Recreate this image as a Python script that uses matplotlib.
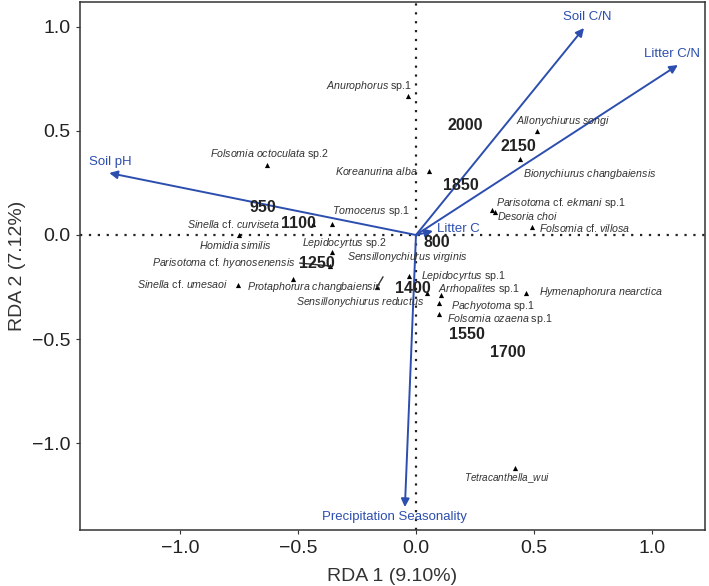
import matplotlib
matplotlib.use("Agg")
import matplotlib.pyplot as plt

plt.rcParams['font.family'] = ['Liberation Sans', 'DejaVu Sans']
plt.rcParams['mathtext.fontset'] = 'custom'
plt.rcParams['mathtext.it'] = 'Liberation Sans:italic'
plt.rcParams['mathtext.rm'] = 'Liberation Sans'

# species scores (RDA1, RDA2) and where their labels sit
species = ['Anurophorus sp.1', 'Folsomia octoculata sp.2', 'Koreanurina alba',
           'Allonychiurus songi', 'Bionychiurus changbaiensis', 'Parisotoma cf. ekmani sp.1',
           'Desoria choi', 'Folsomia cf. villosa', 'Tomocerus sp.1', 'Sinella cf. curviseta',
           'Homidia similis', 'Lepidocyrtus sp.2', 'Parisotoma cf. hyonosenensis',
           'Sensillonychiurus virginis', 'Sinella cf. umesaoi', 'Protaphorura changbaiensis',
           'Sensillonychiurus reductus', 'Lepidocyrtus sp.1', 'Arrhopalites sp.1',
           'Hymenaphorura nearctica', 'Pachyotoma sp.1', 'Folsomia ozaena sp.1',
           'Tetracanthella_wui']
sp_x = [-0.034, -0.631, 0.055, 0.513, 0.441, 0.322, 0.335, 0.492, -0.356, -0.436,
        -0.750, -0.356, -0.364, -0.165, -0.754, -0.521, 0.047, -0.030, 0.106,
        0.466, 0.097, 0.097, 0.419]
sp_y = [0.668, 0.337, 0.308, 0.500, 0.365, 0.120, 0.111, 0.038, 0.053, 0.053,
        0.000, -0.082, -0.149, -0.250, -0.240, -0.212, -0.279, -0.197, -0.288,
        -0.279, -0.327, -0.380, -1.120]
lab_x = [-0.199, -0.619, -0.169, 0.623, 0.737, 0.614, 0.475, 0.716, -0.191, -0.771,
         -0.767, -0.305, -0.814, -0.038, -0.987, -0.432, -0.237, 0.199, 0.267,
         0.784, 0.326, 0.356, 0.386]
lab_y = [0.716, 0.389, 0.308, 0.548, 0.293, 0.154, 0.091, 0.034, 0.115, 0.053,
         -0.048, -0.038, -0.135, -0.106, -0.236, -0.250, -0.322, -0.197, -0.260,
         -0.274, -0.340, -0.406, -1.168]
# repel segments: (species index, segment start x, y)
segments = [(12, -0.492, -0.135), (13, -0.140, -0.202)]

# site scores (elevation)
sites = ['2000', '2150', '1850', '950', '1100', '800', '1250', '1400', '1550', '1700']
site_x = [0.208, 0.432, 0.191, -0.648, -0.500, 0.089, -0.419, -0.013, 0.216, 0.390]
site_y = [0.524, 0.423, 0.240, 0.130, 0.053, -0.038, -0.135, -0.255, -0.476, -0.567]

# environmental vectors
env = ['Soil C/N', 'Litter C/N', 'Soil pH', 'Litter C', 'Precipitation Seasonality']
env_x = [0.712, 1.110, -1.300, 0.072, -0.047]
env_y = [0.995, 0.817, 0.298, 0.019, -1.308]
env_lx = [0.725, 1.085, -1.297, 0.178, -0.093]
env_ly = [1.048, 0.870, 0.351, 0.029, -1.356]

blue = '#2C4EAE'


def species_label(name):
    plain = ('sp.1', 'sp.2', 'cf.')
    parts = []
    for w in name.split(' '):
        if w in plain:
            parts.append(w)
        else:
            parts.append(r'$\mathit{' + w.replace('_', r'\_') + '}$')
    return ' '.join(parts)


fig = plt.figure(figsize=(7.09, 5.86), dpi=100)
ax = fig.add_axes([0.1128, 0.0956, 0.8816, 0.901])

ax.axhline(0, color='#222222', ls=(0, (1, 3)), lw=1.6, zorder=1)
ax.axvline(0, color='#222222', ls=(0, (1, 3)), lw=1.6, zorder=1)

ax.scatter(sp_x, sp_y, marker='^', s=14, color='black', zorder=3, linewidths=0)
for i, name in enumerate(species):
    fs = 7.2 if name == 'Tetracanthella_wui' else 7.7
    ax.text(lab_x[i], lab_y[i], species_label(name), fontsize=fs, color='#333333',
            ha='center', va='center', zorder=4)
for i, sx, sy in segments:
    ax.plot([sx, sp_x[i]], [sy, sp_y[i]], color='#333333', lw=1.0, zorder=3)

for s, x, y in zip(sites, site_x, site_y):
    ax.text(x, y, s, fontsize=11.5, fontweight='bold', color='#222222',
            ha='center', va='center', zorder=5)

for i, name in enumerate(env):
    ax.annotate('', xy=(env_x[i], env_y[i]), xytext=(0, 0),
                arrowprops=dict(arrowstyle='-|>', color=blue, lw=1.4,
                                mutation_scale=12, shrinkA=0, shrinkB=0),
                zorder=2)
    ax.text(env_lx[i], env_ly[i], name, fontsize=9.5, color=blue,
            ha='center', va='center', zorder=4)

ax.set_xlim(-1.424, 1.225)
ax.set_ylim(-1.418, 1.12)
ax.set_xticks([-1.0, -0.5, 0.0, 0.5, 1.0])
ax.set_yticks([-1.0, -0.5, 0.0, 0.5, 1.0])
ax.tick_params(labelsize=14, colors='#333333', labelcolor='#222222',
               length=3, width=0.8, pad=4)
for sp in ax.spines.values():
    sp.set_color('#333333')
    sp.set_linewidth(1.1)
ax.set_xlabel('RDA 1 (9.10%)', fontsize=14, color='#333333', labelpad=8)
ax.set_ylabel('RDA 2 (7.12%)', fontsize=14, color='#333333', labelpad=4)

fig.savefig('out.png', dpi=100)
